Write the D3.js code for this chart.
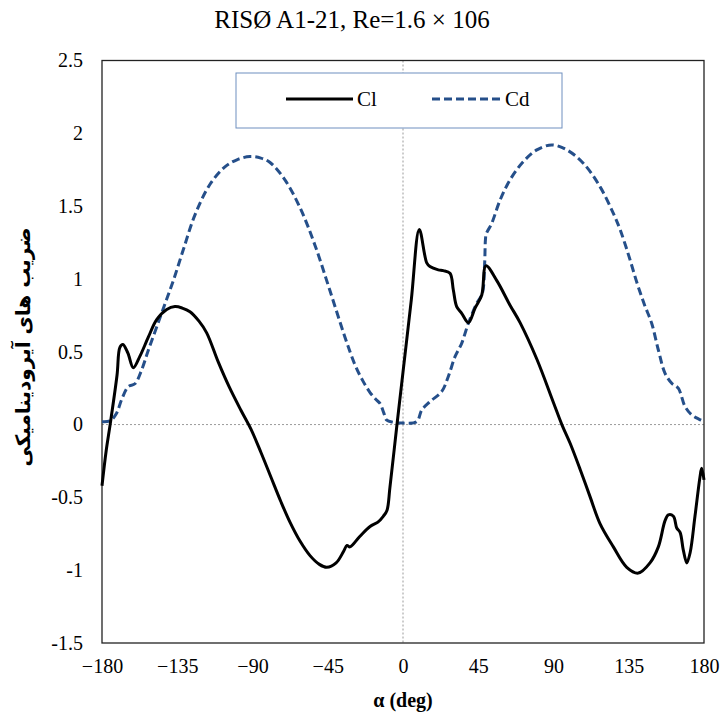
<!DOCTYPE html>
<html><head><meta charset="utf-8">
<script src="https://cdn.jsdelivr.net/npm/d3@7"></script>
<style>body{margin:0;background:#fff}svg{display:block}</style>
</head><body>
<svg id="c" width="721" height="717"></svg>
<script>
const titleText = "RISØ A1-21, Re=1.6 × 106";
const xTitle = "α (deg)";
const yTitle = "ضریب های آیرودینامیکی";
const xTicks = [-180,-135,-90,-45,0,45,90,135,180];
const yTicks = [-1.5,-1,-0.5,0,0.5,1,1.5,2,2.5];
const seriesNames = ["Cl","Cd"];

const clAlpha = [-180,-177.5,-175,-171,-169.3,-167.5,-164.5,-161.3,-157.3,-152.3,-147.3,-141.3,-136.4,-132,-127.4,-122,-117.4,-110.5,-104,-97,-91,-85,-79,-73,-67.6,-61.6,-55.6,-50,-45.6,-40,-35.5,-33.5,-31.7,-26,-19.7,-15,-11.8,-9.6,-7.8,-3.8,0,5,9.75,14.2,16.1,21.1,24.1,28.1,30.1,32.1,35.1,39.1,43.1,47.1,49.6,56,64,70,80,90,95,100,106,112,117.8,125.8,133.8,140.7,147.7,152.7,156.7,158.7,161.7,163.7,165.7,167.6,169.7,171.7,174.6,177.6,178.6,180];
const clValue = [-0.42,-0.18,0.01,0.34,0.53,0.55,0.49,0.39,0.47,0.60,0.72,0.79,0.81,0.80,0.775,0.71,0.63,0.43,0.26,0.10,-0.03,-0.19,-0.36,-0.53,-0.67,-0.80,-0.90,-0.96,-0.98,-0.95,-0.87,-0.83,-0.84,-0.77,-0.70,-0.67,-0.63,-0.59,-0.43,-0.02,0.36,0.86,1.34,1.11,1.085,1.062,1.057,1.039,0.924,0.81,0.764,0.70,0.80,0.89,1.09,0.99,0.82,0.70,0.45,0.15,0.0,-0.13,-0.31,-0.50,-0.68,-0.84,-0.98,-1.02,-0.95,-0.84,-0.66,-0.62,-0.63,-0.71,-0.74,-0.86,-0.95,-0.88,-0.63,-0.36,-0.30,-0.38];

const cdAlpha = [-180,-175,-171.2,-168.3,-164.3,-160.3,-156.3,-152.3,-147.3,-142.3,-137.3,-131.4,-124.4,-115.4,-106.5,-99,-91.5,-85,-79.5,-70.6,-61.6,-52.6,-43.7,-34.7,-28.7,-24,-19.7,-16,-13.8,-11.5,-9.7,-5.8,0,8.2,11.2,16.1,23.1,27.1,31.1,35.1,39.1,44.1,47.4,48.8,49.3,49.8,53,58,64,72,80,89,98,107.8,117.8,125.8,129.8,135,140,144.5,148.7,152.7,156.7,160.7,164.6,168.7,172.7,177.2,178.3];
const cdValue = [0.02,0.027,0.08,0.17,0.26,0.28,0.375,0.51,0.67,0.83,0.99,1.20,1.44,1.65,1.77,1.82,1.84,1.83,1.80,1.68,1.49,1.23,0.92,0.60,0.41,0.30,0.22,0.17,0.146,0.08,0.03,0.016,0.01,0.02,0.10,0.157,0.226,0.33,0.466,0.558,0.696,0.833,0.90,1.10,1.27,1.31,1.38,1.54,1.68,1.806,1.886,1.92,1.886,1.795,1.634,1.45,1.34,1.16,0.97,0.82,0.696,0.512,0.352,0.284,0.25,0.123,0.066,0.036,0.03];

const svg = d3.select("#c");
const L=102, R=704, T=60.5, B=643;
const x = d3.scaleLinear().domain([-180,180]).range([L,R]);
const y = d3.scaleLinear().domain([-1.5,2.5]).range([B,T]);
const serif = "Times New Roman, Liberation Serif, DejaVu Serif, serif";

svg.append("text").attr("x",352).attr("y",28).attr("text-anchor","middle")
  .style("font-family",serif).style("font-size","25px").text(titleText);

// zero lines
svg.append("line").attr("x1",x(0)).attr("x2",x(0)).attr("y1",T).attr("y2",B)
  .attr("stroke","#9a9a9a").attr("stroke-width",1).attr("stroke-dasharray","2,2");
svg.append("line").attr("x1",L).attr("x2",R).attr("y1",y(0)).attr("y2",y(0))
  .attr("stroke","#9a9a9a").attr("stroke-width",1).attr("stroke-dasharray","2,2");

// frame
svg.append("rect").attr("x",L).attr("y",T).attr("width",R-L).attr("height",B-T)
  .attr("fill","none").attr("stroke","#222").attr("stroke-width",1.3);

// axes
const xAxis = d3.axisBottom(x).tickValues(xTicks).tickSize(0).tickPadding(16).tickFormat(d3.format("d"));
const gx = svg.append("g").attr("transform",`translate(0,${B})`).call(xAxis);
const yAxis = d3.axisLeft(y).tickValues(yTicks).tickSize(0).tickPadding(19).tickFormat(d=>String(d));
const gy = svg.append("g").attr("transform",`translate(${L},0)`).call(yAxis);
[gx,gy].forEach(g=>{g.attr("font-family",null).attr("font-size",null);
  g.select(".domain").remove();
  g.selectAll("text").style("font-family",serif).style("font-size","20px").attr("fill","#000");});

svg.append("text").attr("x",403).attr("y",707).attr("text-anchor","middle")
  .style("font-family",serif).style("font-weight","bold").style("font-size","20px").text(xTitle);
svg.append("text").attr("transform","translate(30,347) rotate(-90)").attr("text-anchor","middle")
  .style("font-family","DejaVu Sans, sans-serif").style("font-weight","bold").style("font-size","20px")
  .attr("direction","rtl").text(yTitle);

const line = d3.line().x(d=>x(d[0])).y(d=>y(d[1])).curve(d3.curveCatmullRom.alpha(0.5));
const cd = cdAlpha.map((a,i)=>[a,cdValue[i]]);
const cl = clAlpha.map((a,i)=>[a,clValue[i]]);
svg.append("path").datum(cd).attr("d",line).attr("fill","none")
  .attr("stroke","#254f8a").attr("stroke-width",3).attr("stroke-dasharray","8,4");
svg.append("path").datum(cl).attr("d",line).attr("fill","none")
  .attr("stroke","#000").attr("stroke-width",3).attr("stroke-linejoin","round");

// legend
const lg = svg.append("g");
lg.append("rect").attr("x",236).attr("y",73).attr("width",326).attr("height",55)
  .attr("fill","#fff").attr("stroke","#6f8fbf").attr("stroke-width",1);
lg.append("line").attr("x1",286).attr("x2",353).attr("y1",99).attr("y2",99)
  .attr("stroke","#000").attr("stroke-width",3);
lg.append("text").attr("x",357).attr("y",106).style("font-family",serif).style("font-size","21px").text(seriesNames[0]);
lg.append("line").attr("x1",432).attr("x2",501).attr("y1",99).attr("y2",99)
  .attr("stroke","#254f8a").attr("stroke-width",3).attr("stroke-dasharray","8,4");
lg.append("text").attr("x",505).attr("y",106).style("font-family",serif).style("font-size","21px").text(seriesNames[1]);
</script>
</body></html>
